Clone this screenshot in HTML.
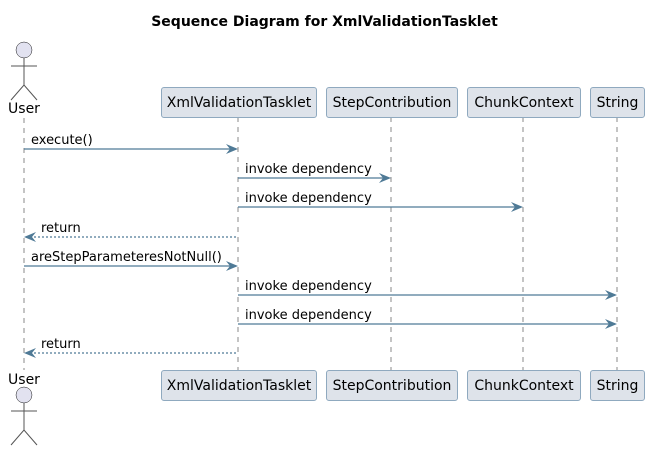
<!DOCTYPE html>
<html><head><style>body{margin:0;background:#fff}</style></head><body>
<svg width="649" height="451" xmlns="http://www.w3.org/2000/svg" font-family="'DejaVu Sans','Liberation Sans',sans-serif" font-size="13">
<text x="324.5" y="26" text-anchor="middle" font-weight="bold" font-size="14">Sequence Diagram for XmlValidationTasklet</text>
<g stroke="#888" stroke-dasharray="5,5" stroke-width="1">
<line x1="24" y1="118" x2="24" y2="370"/>
<line x1="238" y1="117" x2="238" y2="370"/>
<line x1="391" y1="117" x2="391" y2="370"/>
<line x1="523" y1="117" x2="523" y2="370"/>
<line x1="617" y1="117" x2="617" y2="370"/>
</g>
<g fill="#E2E2F0" stroke="#181818" stroke-width="0.5">
<circle cx="24" cy="50" r="8"/><circle cx="24" cy="395" r="8"/>
</g>
<g stroke="#555" stroke-width="1" fill="none">
<path d="M24 58V85M11 66H37M11 100L24 85L37 100"/>
<path d="M24 403V430M11 411H37M11 445L24 430L37 445"/>
</g>
<text x="24" y="113" text-anchor="middle" font-size="14">User</text>
<text x="24" y="384" text-anchor="middle" font-size="14">User</text>
<g fill="#DEE3EA" stroke="#8FA9BF" stroke-width="1">
<rect x="161.5" y="87.5" width="155" height="30" rx="2.5"/>
<rect x="326.5" y="87.5" width="131" height="30" rx="2.5"/>
<rect x="467.5" y="87.5" width="113" height="30" rx="2.5"/>
<rect x="590.5" y="87.5" width="54" height="30" rx="2.5"/>
<rect x="161.5" y="370.5" width="155" height="30" rx="2.5"/>
<rect x="326.5" y="370.5" width="131" height="30" rx="2.5"/>
<rect x="467.5" y="370.5" width="113" height="30" rx="2.5"/>
<rect x="590.5" y="370.5" width="54" height="30" rx="2.5"/>
</g>
<g text-anchor="middle" font-size="14">
<text x="239" y="107">XmlValidationTasklet</text>
<text x="392" y="107">StepContribution</text>
<text x="524" y="107">ChunkContext</text>
<text x="617.5" y="107">String</text>
<text x="239" y="390">XmlValidationTasklet</text>
<text x="392" y="390">StepContribution</text>
<text x="524" y="390">ChunkContext</text>
<text x="617.5" y="390">String</text>
</g>
<g stroke="#4F7A96" stroke-width="1.2" fill="none">
<line x1="24" y1="149" x2="236" y2="149"/>
<line x1="238" y1="178" x2="389" y2="178"/>
<line x1="238" y1="207" x2="521" y2="207"/>
<line x1="26" y1="237" x2="238" y2="237" stroke-dasharray="2,2"/>
<line x1="24" y1="266" x2="236" y2="266"/>
<line x1="238" y1="295" x2="615" y2="295"/>
<line x1="238" y1="324" x2="615" y2="324"/>
<line x1="26" y1="353" x2="238" y2="353" stroke-dasharray="2,2"/>
</g>
<g fill="#4F7A96">
<path d="M238 149l-12-5 4 5-4 5z"/>
<path d="M391 178l-12-5 4 5-4 5z"/>
<path d="M523 207l-12-5 4 5-4 5z"/>
<path d="M24 237l12-5-4 5 4 5z"/>
<path d="M238 266l-12-5 4 5-4 5z"/>
<path d="M617 295l-12-5 4 5-4 5z"/>
<path d="M617 324l-12-5 4 5-4 5z"/>
<path d="M24 353l12-5-4 5 4 5z"/>
</g>
<g font-size="13">
<text x="31" y="144">execute()</text>
<text x="245" y="173">invoke dependency</text>
<text x="245" y="202">invoke dependency</text>
<text x="41" y="232">return</text>
<text x="31" y="261">areStepParameteresNotNull()</text>
<text x="245" y="290">invoke dependency</text>
<text x="245" y="319">invoke dependency</text>
<text x="41" y="348">return</text>
</g>
</svg>
</body></html>
